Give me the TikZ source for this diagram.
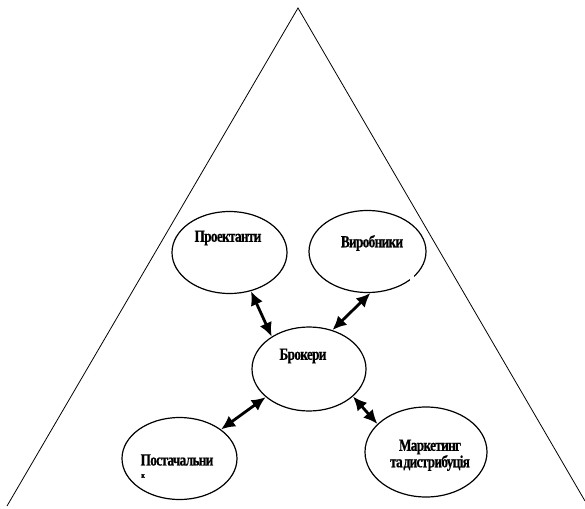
\documentclass[tikz,border=0pt]{standalone}
\usepackage{fontspec}
\usetikzlibrary{shapes.geometric,arrows.meta}
\newfontfamily\lblfont[FakeStretch=0.78,LetterSpace=-4,WordSpace=0.3,FakeBold=0.6,BoldFont={Liberation Serif Bold}]{Liberation Serif}
\begin{document}
\begin{tikzpicture}[x=1pt,y=-1pt,
  party/.style={draw,ellipse,line width=1.2pt,inner sep=0pt,
    minimum width=115pt,minimum height=82pt},
  lbl/.style={font=\lblfont\bfseries\fontsize{17}{18}\selectfont,inner sep=0pt},
  link/.style={line width=2.8pt,{Latex[length=14pt,width=13pt]}-{Latex[length=14pt,width=13pt]}}]
\useasboundingbox (0,0) rectangle (585,508);

% outer triangle
\coordinate (apex) at (298,8);
\coordinate (bl) at (7,506);
\coordinate (br) at (585,501);
\draw[line width=0.8pt] (bl) -- (apex) -- (br);

% participants
\node[party] (proj) at (229.5,252.5) {};
\node[party,minimum width=117pt] (prod) at (367.5,251.5) {};
\node[party,minimum width=114pt,minimum height=84pt] (brok) at (309,369) {};
\node[party] (supp) at (179.5,458.5) {};
\node[party,minimum width=122pt,minimum height=90pt] (mark) at (426,452) {};

% small break in the producers' outline
\fill[white] (410,272) rectangle (414,281);

% labels
\node[lbl] (tproj) at (228,238) {Проектанти};
\node[lbl] (tprod) at (372,243) {Виробники};
\node[lbl] (tbrok) at (303,356) {Брокери};
\node[lbl] (tsupp) at (177,460) {Постачальни};
\node[lbl,font=\lblfont\bfseries\fontsize{8}{9}\selectfont] (tsupp2) at (143,476) {к};
\node[lbl] (tmark1) at (430,447) {Маркетинг};
\node[lbl] (tmark2) at (430,463) {та дистрибуція};

% two-way links through the brokers
\draw[link] (proj.-61.5) -- (brok.139);
\draw[link] (prod.-86.5) -- (brok.59.7);
\draw[link] (brok.-147.6) -- (supp.35);
\draw[link] (brok.-32.4) -- (mark.150);
\end{tikzpicture}
\end{document}
